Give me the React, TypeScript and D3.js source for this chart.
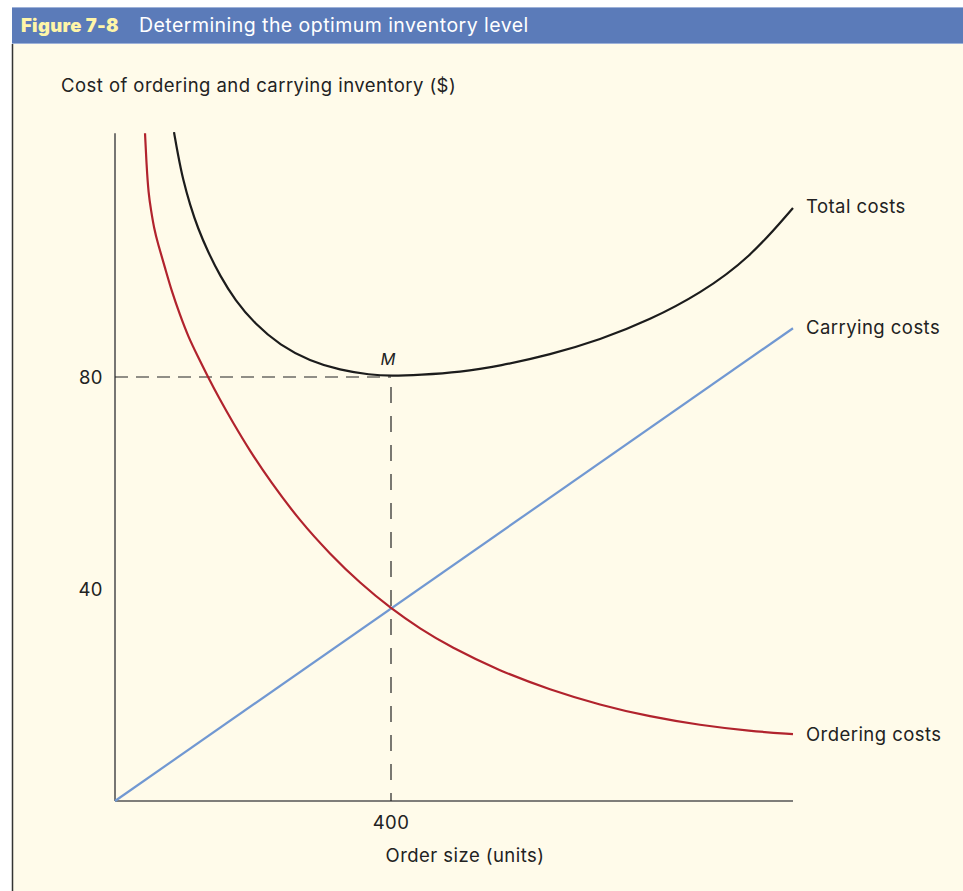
import React from 'react';
import * as d3 from 'd3';

// values (x = order size in units, y = cost in $)
const orderingX = [43.5, 45.7, 48.6, 52.2, 56.5, 62.3, 72.5, 82.6, 94.2, 105.8, 120.3, 134.8, 152.2, 169.6, 195.7, 224.6, 268.1, 311.6, 355.1, 400, 442, 485.5, 558, 630.4, 702.9, 775.4, 847.8, 920.3, 982.6];
const orderingY = [126, 120, 114.5, 111.5, 108.1, 105.1, 100.6, 96, 91.7, 87.7, 83.8, 80, 75.7, 71.7, 66, 60.4, 52.8, 46.6, 41.1, 36.3, 32.5, 29.1, 24.5, 21, 18.1, 15.9, 14.3, 13.2, 12.6];

const totalX = [85.5, 91.3, 98.6, 108.7, 120.3, 134.8, 152.2, 173.9, 202.9, 239.1, 282.6, 326.1, 369.6, 400, 442, 500, 558, 630.4, 702.9, 775.4, 847.8, 920.3, 982.6];
const totalY = [126.2, 121.9, 117.2, 112.5, 108, 103.6, 99.1, 94.5, 90, 86, 83, 81.3, 80.4, 80.2, 80.4, 80.9, 82.1, 84.2, 87, 90.8, 95.7, 102.5, 111.9];

const carryingX = [0, 982.6];
const carryingY = [0, 89.2];

const yTicks = [40, 80];
const xTicks = [400];
const optimum = { x: 400, y: 80 };

const series = [
  { name: 'Total costs', color: '#1c1c1c', xs: totalX, ys: totalY, dy: 5 },
  { name: 'Carrying costs', color: '#7198d2', xs: carryingX, ys: carryingY, dy: 6 },
  { name: 'Ordering costs', color: '#b1232d', xs: orderingX, ys: orderingY, dy: 7 },
];

const W = 963;
const H = 891;
const FONT = 'Inter, "Open Sans", sans-serif';
const FS = 18.5;
const LS = 0.45;

export default function App() {
  const x = d3.scaleLinear().domain([0, 400]).range([115, 391]);
  const y = d3.scaleLinear().domain([0, 80]).range([801, 377]);
  const xEnd = 982.6;
  const yTop = 126;

  const line = d3.line<[number, number]>()
    .x(d => x(d[0]))
    .y(d => y(d[1]))
    .curve(d3.curveBasis);

  const zip = (xs: number[], ys: number[]) => xs.map((v, i) => [v, ys[i]] as [number, number]);

  return (
    <svg width={W} height={H} style={{ position: 'absolute', left: 0, top: 0 }} fontFamily={FONT}>
      <rect x={0} y={0} width={W} height={H} fill="#ffffff" />
      <rect x={12} y={44} width={W - 12} height={H - 44} fill="#fffbea" />
      <line x1={12.5} y1={44} x2={12.5} y2={H} stroke="#333" strokeWidth={1.5} />
      <rect x={12} y={7} width={W - 12} height={37} fill="#5b7bb9" />
      <line x1={12} y1={7.5} x2={W} y2={7.5} stroke="#9db1d8" strokeWidth={1} />
      <line x1={12} y1={43.5} x2={W} y2={43.5} stroke="#9db1d8" strokeWidth={1} />
      <text x={21} y={32} fill="#fff5a8" fontSize={18.5} fontWeight={900} letterSpacing={0.3}>Figure 7-8</text>
      <text x={139} y={32} fill="#ffffff" fontSize={19.5} letterSpacing={LS}>Determining the optimum inventory level</text>

      <text x={61} y={92} fill="#222" fontSize={FS} letterSpacing={LS}>Cost of ordering and carrying inventory ($)</text>

      {/* axes */}
      <line x1={x(0)} y1={y(yTop)} x2={x(0)} y2={y(0)} stroke="#555" strokeWidth={1.6} />
      <line x1={x(0)} y1={y(0)} x2={x(xEnd)} y2={y(0)} stroke="#555" strokeWidth={1.6} />
      {yTicks.map(t => (
        <text key={t} x={103} y={y(t) + 7} textAnchor="end" fill="#222" fontSize={FS} letterSpacing={LS}>{t}</text>
      ))}
      {xTicks.map(t => (
        <text key={t} x={x(t)} y={829} textAnchor="middle" fill="#222" fontSize={FS} letterSpacing={LS}>{t}</text>
      ))}
      <text x={465} y={862} textAnchor="middle" fill="#222" fontSize={FS} letterSpacing={LS}>Order size (units)</text>

      {/* guide lines to the optimum */}
      <line x1={x(0)} y1={y(optimum.y)} x2={x(optimum.x)} y2={y(optimum.y)} stroke="#222" strokeWidth={1.2} strokeDasharray="13,8" />
      <line x1={x(optimum.x)} y1={y(optimum.y)} x2={x(optimum.x)} y2={y(0)} stroke="#222" strokeWidth={1.2} strokeDasharray="16,13" strokeDashoffset={-10} />

      {/* curves */}
      {series.map(s => (
        <path key={s.name} d={line(zip(s.xs, s.ys)) || ''} fill="none" stroke={s.color} strokeWidth={2.2} />
      ))}
      {series.map(s => (
        <text key={s.name + 'l'} x={806} y={y(s.ys[s.ys.length - 1]) + s.dy} fill="#222" fontSize={FS} letterSpacing={LS}>{s.name}</text>
      ))}

      <text x={x(optimum.x) - 3} y={y(optimum.y) - 12} textAnchor="middle" fill="#222" fontSize={16.5} fontStyle="italic">M</text>
    </svg>
  );
}
